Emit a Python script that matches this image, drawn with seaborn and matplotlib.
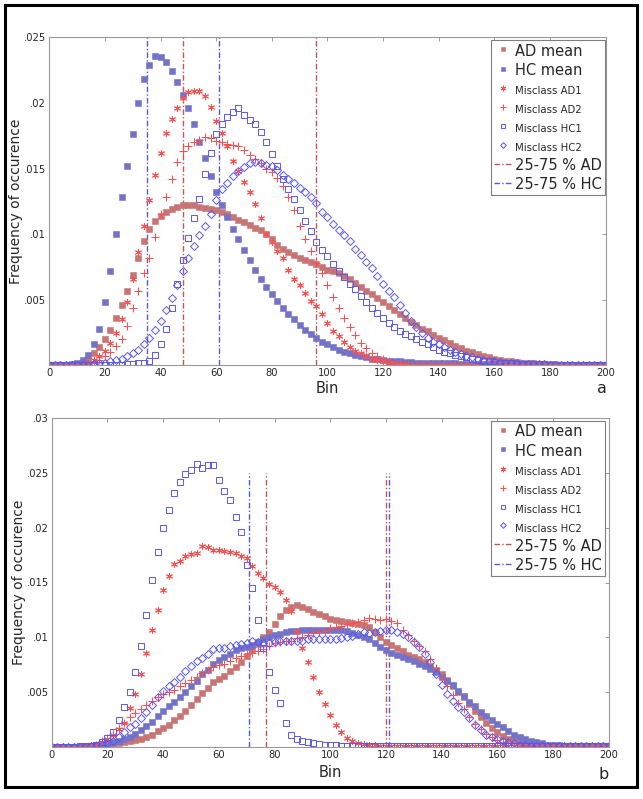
import numpy as np
import matplotlib
matplotlib.use("Agg")
import matplotlib.pyplot as plt
import seaborn as sns
from matplotlib.patches import Rectangle

# histogram bins (every second bin is shown)
bins = np.arange(0, 201, 2)

# ---- panel a, frequencies in units of 1e-4 ----
ad_mean_a = [0, 0, 0, 0, 0.5, 1, 2, 5, 9, 14,
             20, 27, 36, 46, 57, 69, 82, 95, 104, 110,
             114, 117, 119, 121, 122, 122, 122, 121, 120, 119,
             118, 117, 115, 113, 111, 109, 107, 105, 103, 100,
             96, 92, 89, 86, 84, 82, 80, 79, 77, 75,
             73, 72, 70, 68, 66, 63, 60, 57, 54, 51,
             48, 45, 42, 39, 36, 33, 31, 28, 26, 23,
             21, 19, 17, 15, 13, 11, 10, 8.5, 7, 6,
             5, 4, 3.5, 3, 2.5, 2, 1.5, 1.5, 1, 1,
             0.8, 0.7, 0.6, 0.5, 0.5, 0.5, 0.5, 0.5, 0.5, 0.5,
             0.5]
hc_mean_a = [0, 0, 0, 0, 1, 2, 4, 8, 16, 28,
             48, 72, 100, 128, 152, 176, 200, 218, 229, 236,
             235, 231, 224, 216, 206, 196, 184, 170, 158, 144,
             132, 122, 113, 104, 96, 88, 80, 73, 66, 60,
             54, 49, 44, 39, 35, 31, 27, 24, 21, 18,
             16, 14, 12, 10.5, 9, 8, 7, 6, 5, 4.5,
             4, 3.5, 3, 3, 2.5, 2.5, 2, 2, 2, 1.5,
             1.5, 1.5, 1.5, 1.5, 1.2, 1.2, 1.2, 1, 1, 1,
             1, 1, 0.8, 0.8, 0.8, 0.7, 0.7, 0.6, 0.6, 0.6,
             0.5, 0.5, 0.5, 0.5, 0.5, 0.5, 0.5, 0.5, 0.5, 0.5,
             0.5]
ad1_a = [0, 0, 0, 0, 0, 0, 1, 2, 4, 7,
         11, 17, 25, 35, 48, 66, 86, 106, 126, 145,
         162, 177, 188, 196, 204, 208, 209, 209, 205, 197,
         186, 177, 167, 156, 148, 140, 132, 123, 112, 100,
         94, 87, 82, 73, 66, 61, 55, 49, 45, 39,
         32, 26, 22, 18, 14, 11, 9, 7, 5, 4,
         3, 2, 1.5, 1, 1, 0.5, 0.5, 0.5, 0.5, 0.5,
         0.3, 0.3, 0.3, 0.3, 0.3, 0.3, 0.3, 0.3, 0.3, 0.3,
         0.2, 0.2, 0.2, 0.2, 0.2, 0.2, 0.2, 0.2, 0.2, 0.2,
         0.2, 0.2, 0.2, 0.2, 0.2, 0.2, 0.2, 0.2, 0.2, 0.2,
         0.2]
ad2_a = [0, 0, 0, 0, 0, 0, 0.5, 1, 2, 4,
         7, 10, 15, 20, 30, 44, 57, 70, 82, 98,
         115, 128, 142, 155, 163, 167, 170, 172, 174, 173,
         171, 170, 169, 168, 167, 164, 160, 157, 154, 150,
         147, 143, 137, 128, 118, 106, 96, 87, 78, 70,
         61, 52, 44, 36, 29, 23, 17, 13, 9, 7,
         5, 3, 2, 1.5, 1, 0.5, 0.5, 0.5, 0.5, 0.5,
         0.3, 0.3, 0.3, 0.3, 0.3, 0.3, 0.3, 0.3, 0.3, 0.3,
         0.3, 0.3, 0.3, 0.3, 0.3, 0.3, 0.3, 0.3, 0.3, 0.3,
         0.3, 0.3, 0.3, 0.3, 0.3, 0.3, 0.3, 0.3, 0.3, 0.3,
         0.3]
hc1_a = [0, 0, 0, 0, 0, 0, 0, 0, 0, 0.5,
         0.5, 0.5, 0.5, 0.5, 1, 1, 1.5, 2, 3, 8,
         16, 28, 44, 62, 80, 97, 112, 127, 146, 162,
         176, 184, 189, 193, 196, 191, 187, 184, 178, 170,
         161, 152, 142, 134, 127, 118, 110, 102, 94, 88,
         83, 77, 72, 67, 62, 58, 53, 48, 44, 40,
         36, 32, 29, 26, 24, 22, 20, 18, 16, 14,
         12, 10.5, 9, 8, 7, 6, 5, 4, 3.5, 3,
         2.5, 2, 1.5, 1.5, 1, 1, 1, 0.8, 0.8, 0.8,
         0.5, 0.5, 0.5, 0.5, 0.5, 0.5, 0.5, 0.5, 0.5, 0.5,
         0.5]
hc2_a = [0, 0, 0, 0, 0, 0, 0.5, 0.5, 1, 1.5,
         2, 3, 4, 5, 7, 9, 12, 16, 21, 27,
         34, 42, 51, 61, 72, 82, 91, 99, 106, 115,
         126, 134, 139, 144, 148, 151, 154, 155, 154, 153,
         152, 149, 145, 142, 139, 135, 132, 128, 124, 117,
         113, 108, 103, 99, 95, 89, 84, 79, 74, 68,
         62, 57, 52, 46, 40, 34, 29, 25, 21, 18,
         16, 14, 12, 10, 8.5, 7, 6, 5, 4, 3.5,
         3, 2.5, 2, 1.5, 1.5, 1, 1, 0.8, 0.8, 0.8,
         0.5, 0.5, 0.5, 0.5, 0.5, 0.5, 0.5, 0.5, 0.5, 0.5,
         0.5]
q_ad_a = [48, 96]
q_hc_a = [35, 61]

# ---- panel b, frequencies in units of 1e-4 ----
ad_mean_b = [0, 0, 0, 0, 0, 0, 0, 0.5, 0.5, 1,
             1.5, 2, 3, 4, 5, 6, 7, 9, 11, 14,
             17, 20, 24, 28, 33, 38, 44, 49, 54, 59,
             62, 65, 69, 73, 77, 83, 88, 94, 100, 105,
             112, 119, 125, 128, 129, 128, 126, 123, 121, 119,
             117, 116, 115, 114, 113, 112, 111, 109, 105, 100,
             96, 93, 90, 87, 84, 82, 80, 77, 74, 70,
             66, 61, 55, 50, 45, 39, 33, 27, 22, 17,
             13, 10, 7, 5, 3.5, 2.5, 2, 1.5, 1, 0.8,
             0.5, 0.5, 0.5, 0.5, 0.5, 0.5, 0.5, 0.5, 0.5, 0.5,
             0.5]
hc_mean_b = [0, 0, 0, 0, 0, 0, 0, 0.5, 1, 2,
             3, 4, 5, 7, 9, 12, 15, 19, 23, 28,
             33, 37, 41, 45, 50, 55, 60, 66, 70, 76,
             79, 82, 85, 88, 90, 91, 93, 96, 98, 100,
             102, 103, 105, 106, 106, 107, 107, 107, 107, 107,
             107, 107, 107, 106, 104, 102, 100, 98, 95, 91,
             88, 86, 84, 82, 80, 78, 76, 74, 71, 68,
             64, 60, 56, 51, 46, 41, 37, 32, 28, 24,
             21, 18, 14, 11, 9, 7, 5, 4, 3, 2,
             1.5, 1.2, 1, 0.8, 0.6, 0.5, 0.5, 0.5, 0.5, 0.5,
             0.5]
ad1_b = [0, 0, 0, 0, 0, 0, 0, 1, 2, 4,
         7, 11, 16, 22, 35, 48, 66, 86, 107, 125,
         143, 156, 167, 170, 174, 176, 177, 183, 182, 180,
         180, 179, 178, 177, 174, 172, 165, 159, 154, 149,
         146, 141, 134, 124, 106, 90, 77, 64, 50, 39,
         29, 20, 13, 8, 5, 3.5, 2.5, 2, 1.5, 1,
         0.8, 0.7, 0.6, 0.5, 0.5, 0.5, 0.5, 0.5, 0.5, 0.5,
         0.5, 0.5, 0.5, 0.5, 0.5, 0.5, 0.5, 0.5, 0.5, 0.5,
         0.5, 0.5, 0.5, 0.5, 0.5, 0.5, 0.5, 0.5, 0.5, 0.5,
         0.5, 0.5, 0.5, 0.5, 0.5, 0.5, 0.5, 0.5, 0.5, 0.5,
         0.5]
ad2_b = [0, 0, 0, 0, 0, 0, 0, 1, 2, 5,
         8, 12, 17, 22, 27, 31, 34, 38, 42, 45,
         48, 50, 52, 55, 58, 61, 64, 67, 70, 73,
         75, 76, 78, 81, 83, 85, 86, 87, 89, 92,
         95, 96, 97, 97, 99, 100, 102, 104, 105, 106,
         108, 109, 110, 112, 113, 114, 116, 118, 117, 116,
         117, 115, 113, 107, 102, 97, 92, 87, 80, 72,
         63, 55, 47, 40, 34, 27, 21, 16, 12, 9,
         6, 4.5, 3, 2, 1.5, 1, 0.8, 0.6, 0.5, 0.5,
         0.5, 0.5, 0.5, 0.5, 0.5, 0.5, 0.5, 0.5, 0.5, 0.5,
         0.5]
hc1_b = [0, 0, 0, 0, 0, 0.5, 0.5, 1, 2, 4,
         8, 13, 24, 36, 50, 68, 92, 120, 152, 178,
         200, 216, 232, 242, 249, 253, 258, 255, 257, 257,
         244, 234, 225, 210, 196, 166, 145, 116, 90, 68,
         52, 40, 22, 11, 7, 5, 4, 3, 2.5, 2,
         1.5, 1.5, 1, 1, 1, 1, 1, 1, 1, 1,
         0.8, 0.8, 0.8, 0.8, 0.8, 0.8, 0.8, 0.8, 0.8, 0.8,
         0.7, 0.7, 0.7, 0.7, 0.7, 0.7, 0.7, 0.7, 0.7, 0.7,
         0.6, 0.6, 0.6, 0.6, 0.6, 0.6, 0.6, 0.6, 0.6, 0.6,
         0.5, 0.5, 0.5, 0.5, 0.5, 0.5, 0.5, 0.5, 0.5, 0.5,
         0.5]
hc2_b = [0, 0, 0, 0, 0, 0, 0, 0.5, 1, 2,
         3, 5, 9, 13, 18, 21, 26, 32, 38, 45,
         51, 55, 59, 64, 69, 74, 78, 81, 85, 89,
         90, 90, 92, 93, 94, 95, 97, 96, 95, 95,
         96, 97, 97, 97, 97, 97, 98, 98, 98, 98,
         98, 98, 99, 100, 101, 103, 105, 104, 105, 106,
         107, 107, 105, 103, 100, 96, 91, 85, 77, 66,
         56, 48, 42, 36, 32, 26, 20, 15, 11, 9,
         7, 5, 4, 3, 2, 1.5, 1, 0.8, 0.6, 0.5,
         0.5, 0.5, 0.5, 0.5, 0.5, 0.5, 0.5, 0.5, 0.5, 0.5,
         0.5]
q_ad_b = [77, 120]
q_hc_b = [71, 121]

labels = ["AD mean", "HC mean", "Misclass AD1", "Misclass AD2",
          "Misclass HC1", "Misclass HC2"]

AD_MEAN = "#c97474"
HC_MEAN = "#7272c9"
AD_MIS = "#ff4f4f"
HC_MIS = "#5858f0"
AD_Q = "#c25656"
HC_Q = "#5b5bc8"
DASHDOT = (0, (4, 1.6, 1, 1.6))

styles = [
    dict(marker="s", markersize=4.3, color=AD_MEAN, markeredgecolor=AD_MEAN,
         markerfacecolor=AD_MEAN, markeredgewidth=0.4),
    dict(marker="s", markersize=4.3, color=HC_MEAN, markeredgecolor=HC_MEAN,
         markerfacecolor=HC_MEAN, markeredgewidth=0.4),
    dict(marker=(6, 2, 0), markersize=5, color=AD_MIS, markeredgecolor=AD_MIS,
         markerfacecolor=AD_MIS, markeredgewidth=0.7),
    dict(marker="+", markersize=5.2, color=AD_MIS, markeredgecolor=AD_MIS,
         markerfacecolor=AD_MIS, markeredgewidth=0.75),
    dict(marker="s", markersize=4.3, color=HC_MIS, markeredgecolor=HC_MIS,
         markerfacecolor="none", markeredgewidth=0.7),
    dict(marker="D", markersize=3.6, color=HC_MIS, markeredgecolor=HC_MIS,
         markerfacecolor="none", markeredgewidth=0.7),
]

sns.set_style("white")
W, H = 643, 799
fig = plt.figure(figsize=(W / 100, H / 100), dpi=100)


def px_axes(l, t, r, b):
    return fig.add_axes([l / W, 1 - b / H, (r - l) / W, (b - t) / H])


def draw_panel(ax, series, q_ad, q_hc, ytop, yticks, yticklabels, anchor, xlab_y, ylab_x):
    for vals, lab, st in zip(series, labels, styles):
        sns.lineplot(x=bins, y=np.asarray(vals) * 1e-4, ax=ax, label=lab, estimator=None,
                     errorbar=None, legend=False, linestyle="none", **st)
    ax.vlines(q_ad, 0, 0.025, colors=AD_Q, linestyles=[DASHDOT], linewidth=1.0,
              label="25-75 % AD", zorder=1)
    ax.vlines(q_hc, 0, 0.025, colors=HC_Q, linestyles=[DASHDOT], linewidth=1.0,
              label="25-75 % HC", zorder=1)
    ax.set_xlim(0, 200)
    ax.set_ylim(0, ytop)
    ax.set_xticks(range(0, 201, 20))
    ax.set_yticks(yticks)
    ax.set_yticklabels(yticklabels)
    ax.tick_params(axis="both", which="both", direction="in", length=3, width=0.6,
                   color="#8a8a8a", top=True, right=True, labelsize=7.2, pad=2.2)
    for s in ax.spines.values():
        s.set_color("#9a9a9a")
        s.set_linewidth(0.8)
    ax.set_xlabel("Bin", fontsize=10.5)
    ax.set_ylabel("Frequency of occurence", fontsize=10)
    ax.xaxis.set_label_coords(0.5, xlab_y)
    ax.yaxis.set_label_coords(ylab_x, 0.5)

    h, l = ax.get_legend_handles_labels()
    leg = ax.legend(h, l, loc="upper right", bbox_to_anchor=anchor, borderaxespad=0,
                    fontsize=10.5, handlelength=1.25, handleheight=1.2, handletextpad=0.2,
                    labelspacing=0.27, borderpad=0.22, markerscale=0.8, numpoints=1,
                    fancybox=False, framealpha=1, edgecolor="#7f7f7f")
    leg.get_frame().set_linewidth(0.8)
    for i, t in enumerate(leg.get_texts()):
        if 2 <= i <= 5:
            t.set_fontsize(7.3)


ax_a = px_axes(49.3, 37.3, 605.5, 365.3)
ax_b = px_axes(51.7, 418.3, 608.7, 746.7)

draw_panel(ax_a, [ad_mean_a, hc_mean_a, ad1_a, ad2_a, hc1_a, hc2_a], q_ad_a, q_hc_a,
           0.025, [0.005, 0.01, 0.015, 0.02, 0.025], [".005", ".01", ".015", ".02", ".025"],
           (0.999, 0.992), -0.048, -0.047)
draw_panel(ax_b, [ad_mean_b, hc_mean_b, ad1_b, ad2_b, hc1_b, hc2_b], q_ad_b, q_hc_b,
           0.03, [0.005, 0.01, 0.015, 0.02, 0.025, 0.03],
           [".005", ".01", ".015", ".02", ".025", ".03"],
           (0.9934, 0.9927), -0.0557, -0.0465)

fig.text(602 / W, 1 - 393 / H, "a", ha="center", va="baseline", fontsize=11.5)
fig.text(604 / W, 1 - 779 / H, "b", ha="center", va="baseline", fontsize=11.5)

fig.add_artist(Rectangle((4.5 / W, 1 - 786.5 / H), 632 / W, 782 / H, transform=fig.transFigure,
                         fill=False, edgecolor="black", linewidth=2.2))

fig.savefig("out.png", dpi=100)
